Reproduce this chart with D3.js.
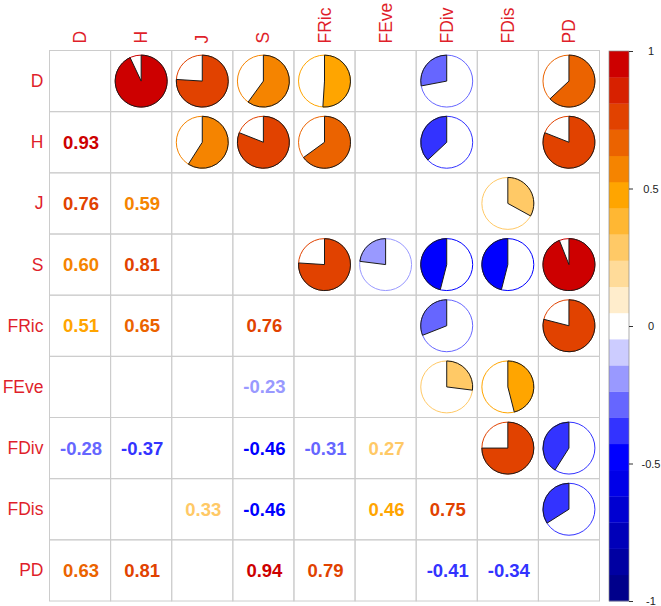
<!DOCTYPE html>
<html>
<head>
<meta charset="utf-8">
<script src="https://cdn.jsdelivr.net/npm/d3@7/dist/d3.min.js"></script>
<style>
  html, body { margin: 0; padding: 0; background: #ffffff; }
  svg { display: block; }
</style>
</head>
<body>
<svg id="chart" width="661" height="606"></svg>
<script>
// ---- data ----
const vars = ["D", "H", "J", "S", "FRic", "FEve", "FDiv", "FDis", "PD"];
// lower triangle of the correlation matrix (row i, columns 0..i-1); null = not shown
const lowerRows = [
  [],
  [0.93],
  [0.76, 0.59],
  [0.60, 0.81, null],
  [0.51, 0.65, null, 0.76],
  [null, null, null, -0.23, null],
  [-0.28, -0.37, null, -0.46, -0.31, 0.27],
  [null, null, 0.33, -0.46, null, 0.46, 0.75],
  [0.63, 0.81, null, 0.94, 0.79, null, -0.41, -0.34]
];
const legendTicks = [-1, -0.5, 0, 0.5, 1];
const rampStops = ["#00008B", "#0000FF", "#FFFFFF", "#FFA500", "#CD0000"];
const nColors = 21;

// ---- build cells ----
const cells = [];
lowerRows.forEach((row, i) => {
  row.forEach((v, j) => {
    if (v !== null) {
      cells.push({ row: vars[i], col: vars[j], v: v, kind: "num" });
      cells.push({ row: vars[j], col: vars[i], v: v, kind: "pie" });
    }
  });
});

const svg = d3.select("#chart");

const x = d3.scaleBand().domain(vars).range([49.5, 599.5]);
const y = d3.scaleBand().domain(vars).range([50.5, 601]);

const ramp = d3.scaleLinear().domain([0, 0.25, 0.5, 0.75, 1]).range(rampStops);
const palette = d3.range(nColors).map(k => ramp(k / (nColors - 1)));
// displayed values are rounded; a tiny offset keeps bin edges as in the original
const colorOf = v => palette[Math.max(0, Math.min(nColors - 1, Math.floor((v + 1) / 2 * nColors - 0.01)))];
const fmt = v => v.toFixed(2);

const labelColor = "#DF1F2B";
const font = "'Liberation Sans', Arial, Helvetica, sans-serif";

// grid
const grid = svg.append("g");
vars.forEach(r => vars.forEach(c => {
  grid.append("rect")
    .attr("x", x(c)).attr("y", y(r))
    .attr("width", x.bandwidth()).attr("height", y.bandwidth())
    .attr("fill", "none").attr("stroke", "#cccccc").attr("stroke-width", 1);
}));

// numbers (lower triangle)
svg.append("g").selectAll("text")
  .data(cells.filter(d => d.kind === "num"))
  .join("text")
  .attr("x", d => x(d.col) + x.bandwidth() / 2 + 1)
  .attr("y", d => y(d.row) + y.bandwidth() / 2)
  .attr("text-anchor", "middle")
  .attr("dominant-baseline", "central")
  .attr("font-family", font)
  .attr("font-weight", "bold")
  .attr("font-size", 18.5)
  .attr("fill", d => colorOf(d.v))
  .text(d => fmt(d.v));

// pies (upper triangle)
const radius = x.bandwidth() * 0.5 * 0.85;
const arc = d3.arc().innerRadius(0).outerRadius(radius);
const pies = svg.append("g").selectAll("g")
  .data(cells.filter(d => d.kind === "pie"))
  .join("g")
  .attr("transform", d => `translate(${x(d.col) + x.bandwidth() / 2},${y(d.row) + y.bandwidth() / 2})`);
pies.append("circle")
  .attr("r", radius)
  .attr("fill", "white")
  .attr("stroke", d => colorOf(d.v))
  .attr("stroke-width", 1);
pies.append("path")
  .attr("d", d => arc({ startAngle: 0, endAngle: 2 * Math.PI * d.v }))
  .attr("fill", d => colorOf(d.v))
  .attr("stroke", "#1a1a1a")
  .attr("stroke-width", 1);

// row labels
svg.append("g").selectAll("text")
  .data(vars).join("text")
  .attr("x", 43.5)
  .attr("y", d => y(d) + y.bandwidth() / 2)
  .attr("text-anchor", "end")
  .attr("dominant-baseline", "central")
  .attr("font-family", font)
  .attr("font-size", 17.5)
  .attr("fill", labelColor)
  .text(d => d);

// column labels (rotated)
svg.append("g").selectAll("text")
  .data(vars).join("text")
  .attr("transform", d => `translate(${x(d) + x.bandwidth() / 2},43.5) rotate(-90)`)
  .attr("text-anchor", "start")
  .attr("dominant-baseline", "central")
  .attr("font-family", font)
  .attr("font-size", 17.5)
  .attr("fill", labelColor)
  .text(d => d);

// color legend
const ly = d3.scaleLinear().domain([-1, 1]).range([601, 51]);
const legend = svg.append("g");
const binW = 2 / nColors;
legend.selectAll("rect.bin")
  .data(palette).join("rect")
  .attr("class", "bin")
  .attr("x", 609)
  .attr("width", 20)
  .attr("y", (c, k) => ly(-1 + (k + 1) * binW))
  .attr("height", (c, k) => ly(-1 + k * binW) - ly(-1 + (k + 1) * binW) + 0.3)
  .attr("fill", c => c);
legend.append("rect")
  .attr("x", 609).attr("y", 51).attr("width", 20).attr("height", 550)
  .attr("fill", "none").attr("stroke", "#8a8a8a").attr("stroke-width", 0.7);

const axis = d3.axisRight(ly).tickValues(legendTicks).tickSize(4).tickSizeOuter(0)
  .tickFormat(d => String(d));
const ag = legend.append("g").attr("transform", "translate(629,0)").call(axis);
ag.select(".domain").remove();
ag.selectAll(".tick line").attr("stroke", "#333").attr("stroke-width", 1);
ag.selectAll(".tick text")
  .attr("x", 22)
  .attr("text-anchor", "middle")
  .attr("font-family", font)
  .attr("font-size", 11)
  .attr("fill", "#222");
</script>
</body>
</html>
